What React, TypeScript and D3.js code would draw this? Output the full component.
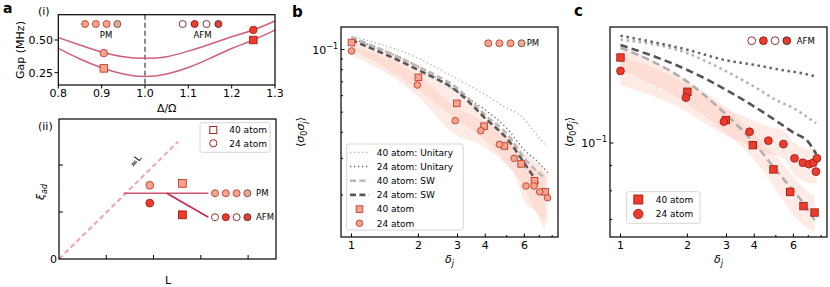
import React, { useEffect, useRef } from 'react';
import * as d3 from 'd3';

// ---------- panel a(i): gap vs detuning ----------
const detuning = [0.8, 0.85, 0.9, 0.95, 1.0, 1.05, 1.1, 1.15, 1.2, 1.25, 1.3];
const gap24 = [0.518, 0.462, 0.408, 0.372, 0.36, 0.372, 0.415, 0.468, 0.525, 0.577, 0.645];
const gap40 = [0.436, 0.355, 0.288, 0.24, 0.22, 0.24, 0.29, 0.36, 0.435, 0.5, 0.575];
const gapPtX = [0.905, 0.905, 1.25, 1.25];
const gapPtY = [0.4, 0.283, 0.577, 0.5];
const gapPtShape = ['circle', 'square', 'circle', 'square'];
const gapPtPhase = ['PM', 'PM', 'AFM', 'AFM'];
const gapTicksX = [0.8, 0.9, 1.0, 1.1, 1.2, 1.3];
const gapTicksY = [0.25, 0.5];

// ---------- panel a(ii): schematic ----------
const diagX = [0, 2.52];
const diagY = [0, 2.5];
const pmLineX = [1.37, 3.16];
const pmLineY = [1.4, 1.4];
const afmLineX = [2.28, 3.16];
const afmLineY = [1.4, 0.89];
const schemX = [1.92, 1.92, 2.61, 2.61];
const schemY = [1.57, 1.19, 1.61, 0.94];
const schemShape = ['circle', 'circle', 'square', 'square'];
const schemPhase = ['PM', 'AFM', 'PM', 'AFM'];
const schemTicksX = [1, 2, 3, 4];
const schemTicksY = [1, 2];

// ---------- panel b: PM correlations ----------
const bX40 = [1, 2, 2.98, 3.95, 4.88, 5.8, 6.66, 7.44];
const bY40 = [0.108, 0.0735, 0.0551, 0.0428, 0.0344, 0.0282, 0.0234, 0.0207];
const bLo40 = [0.101, 0.064, 0.046, 0.037, 0.029, 0.023, 0.017, 0.0135];
const bHi40 = [0.112, 0.082, 0.062, 0.048, 0.04, 0.033, 0.029, 0.027];
const bX24 = [1, 1.98, 2.93, 3.82, 4.63, 5.4, 6.1, 6.63, 7.03, 7.63];
const bY24 = [0.0984, 0.0675, 0.0455, 0.0407, 0.035, 0.03, 0.0221, 0.0221, 0.0207, 0.0194];
const bLo24 = [0.094, 0.06, 0.039, 0.035, 0.03, 0.025, 0.018, 0.017, 0.016, 0.0145];
const bHi24 = [0.104, 0.076, 0.053, 0.046, 0.04, 0.035, 0.027, 0.027, 0.026, 0.025];
const bUx40 = [1, 2, 3, 4, 4.88, 5.84, 6.66, 7.44];
const bUy40 = [0.116, 0.0907, 0.072, 0.0606, 0.0531, 0.0475, 0.0401, 0.0348];
const bUx24 = [1, 2, 3, 4, 5, 6, 7, 7.7];
const bUy24 = [0.113, 0.0827, 0.0627, 0.0512, 0.0418, 0.0329, 0.0284, 0.0254];
const bSx40 = [1, 2, 3, 4, 5.07, 6, 7.3];
const bSy40 = [0.1145, 0.0827, 0.065, 0.0484, 0.0388, 0.03, 0.0245];
const bSx24 = [1, 2, 3, 4, 5.07, 6, 7.05];
const bSy24 = [0.111, 0.0797, 0.0627, 0.0467, 0.0367, 0.0284, 0.022];
const bYMinor = [0.02, 0.03, 0.04, 0.05, 0.06, 0.07, 0.08, 0.09];

// ---------- panel c: AFM correlations ----------
const cX40 = [1, 2, 2.98, 3.94, 4.88, 5.8, 6.66, 7.47];
const cY40 = [0.149, 0.127, 0.1113, 0.099, 0.0884, 0.0796, 0.0745, 0.0723];
const cLo40 = [0.141, 0.12, 0.105, 0.093, 0.082, 0.073, 0.068, 0.066];
const cHi40 = [0.158, 0.134, 0.118, 0.105, 0.095, 0.087, 0.081, 0.078];
const cX24 = [1, 1.97, 2.92, 3.81, 4.63, 5.41, 6.07, 6.62, 7.06, 7.38, 7.58, 7.66];
const cY24 = [0.14, 0.1236, 0.1105, 0.1054, 0.1011, 0.0995, 0.0931, 0.0912, 0.0906, 0.0912, 0.0875, 0.0931];
const cLo24 = [0.131, 0.116, 0.104, 0.099, 0.095, 0.093, 0.086, 0.084, 0.083, 0.083, 0.083, 0.084];
const cHi24 = [0.15, 0.132, 0.118, 0.112, 0.108, 0.106, 0.1, 0.098, 0.097, 0.098, 0.097, 0.097];
const cUx40 = [1, 2, 3, 4, 5, 6, 7.6];
const cUy40 = [0.162, 0.152, 0.1396, 0.13, 0.1223, 0.1176, 0.1096];
const cUx24 = [1, 2, 3, 4, 5.3, 6.55, 7.6];
const cUy24 = [0.165, 0.1545, 0.147, 0.144, 0.1406, 0.1385, 0.1363];
const cSx40 = [1, 2, 3, 4, 4.88, 5.8, 6.66, 7.47];
const cSy40 = [0.156, 0.133, 0.114, 0.0999, 0.0895, 0.0815, 0.0755, 0.0698];
const cSx24 = [1, 2, 3, 4, 5, 6, 7, 7.6];
const cSy24 = [0.158, 0.1406, 0.128, 0.1185, 0.111, 0.105, 0.1005, 0.095];
const cYMinor = [0.07, 0.08, 0.09];

const corrTicksMajor = [1, 2, 3, 4, 6];
const corrTicksMinor = [5, 7, 8];

const FONT = 'DejaVu Sans, sans-serif';
const PM_FILL = '#f6a48b';
const PM_EDGE = '#c23b2e';
const AFM_FILL = '#ef3b2c';
const AFM_EDGE = '#a11d16';
const BAND = '#fbbcad';

function text(g: any, x: number, y: number, s: string, size: number, anchor = 'start') {
  return g.append('text').attr('x', x).attr('y', y).attr('font-size', size)
    .attr('font-family', FONT).attr('text-anchor', anchor).attr('fill', '#000').text(s);
}

function mark(g: any, shape: string, cx: number, cy: number, size: number, fill: string, stroke: string, sw = 0.9) {
  if (shape === 'circle') {
    g.append('circle').attr('cx', cx).attr('cy', cy).attr('r', size / 2)
      .attr('fill', fill).attr('stroke', stroke).attr('stroke-width', sw);
  } else {
    g.append('rect').attr('x', cx - size / 2).attr('y', cy - size / 2).attr('width', size).attr('height', size)
      .attr('fill', fill).attr('stroke', stroke).attr('stroke-width', sw);
  }
}

function frame(g: any, x0: number, y0: number, x1: number, y1: number) {
  g.append('rect').attr('x', x0).attr('y', y0).attr('width', x1 - x0).attr('height', y1 - y0)
    .attr('fill', 'none').attr('stroke', '#000').attr('stroke-width', 1.2);
}

function tick(g: any, x1: number, y1: number, x2: number, y2: number) {
  g.append('line').attr('x1', x1).attr('y1', y1).attr('x2', x2).attr('y2', y2)
    .attr('stroke', '#000').attr('stroke-width', 1);
}

// row of four phase glyphs (PM: all light; AFM: open / filled alternating)
function phaseRow(g: any, x: number, y: number, step: number, size: number, phase: string) {
  for (let i = 0; i < 4; i++) {
    if (phase === 'PM') {
      mark(g, 'circle', x + i * step, y, size, PM_FILL, i === 3 ? '#555' : PM_EDGE);
    } else {
      const filled = i % 2 === 1;
      mark(g, 'circle', x + i * step, y, size, filled ? AFM_FILL : '#fff', i === 3 ? '#333' : '#8b1a1a');
    }
  }
}

function drawGap(g: any) {
  const sx = d3.scaleLinear().domain([0.8, 1.3]).range([58.3, 275]);
  const sy = d3.scaleLinear().domain([0.25, 0.5]).range([72.7, 40]);
  const [y0, y1] = [14.7, 85];

  g.append('line').attr('x1', sx(1.0)).attr('x2', sx(1.0)).attr('y1', y0).attr('y2', y1)
    .attr('stroke', '#888').attr('stroke-width', 2).attr('stroke-dasharray', '5,3');

  const line = d3.line<number>().x((d, i) => sx(detuning[i])).y(d => sy(d)).curve(d3.curveNatural);
  [gap24, gap40].forEach(s => {
    g.append('path').attr('d', line(s)).attr('fill', 'none').attr('stroke', '#d0607a').attr('stroke-width', 1.5);
  });

  gapPtX.forEach((x, i) => {
    const pm = gapPtPhase[i] === 'PM';
    mark(g, gapPtShape[i], sx(x), sy(gapPtY[i]), 7.5, pm ? PM_FILL : AFM_FILL, pm ? PM_EDGE : AFM_EDGE);
  });

  phaseRow(g, 85, 24, 10.8, 7, 'PM');
  text(g, 106, 38, 'PM', 8.5, 'middle');
  phaseRow(g, 182.7, 24, 11.9, 7, 'AFM');
  text(g, 202.5, 38, 'AFM', 8.5, 'middle');

  frame(g, 58.3, y0, 275, y1);
  gapTicksX.forEach(v => {
    tick(g, sx(v), y1, sx(v), y1 + 3.5);
    text(g, sx(v), 96.7, v.toFixed(1), 11, 'middle');
  });
  gapTicksY.forEach(v => {
    tick(g, 58.3, sy(v), 54.5, sy(v));
    text(g, 53, sy(v) + 4, v.toFixed(2), 11, 'end');
  });
  text(g, 166.7, 112, 'Δ/Ω', 11, 'middle');
  text(g, 0, 0, 'Gap (MHz)', 11, 'middle').attr('transform', 'translate(24,50) rotate(-90)');
  text(g, 38, 15, '(i)', 11);
}

function drawSchematic(g: any) {
  const sx = d3.scaleLinear().domain([0, 4.59]).range([59, 276]);
  const sy = d3.scaleLinear().domain([0, 2.98]).range([259, 119]);
  const path = (xs: number[], ys: number[]) => d3.line<number>().x(d => sx(d)).y((d, i) => sy(ys[i]))(xs);

  g.append('path').attr('d', path(diagX, diagY)).attr('fill', 'none').attr('stroke', '#f0a0b2')
    .attr('stroke-width', 2).attr('stroke-dasharray', '5,3.2');
  g.append('path').attr('d', path(pmLineX, pmLineY)).attr('fill', 'none').attr('stroke', '#cf5472').attr('stroke-width', 1.6);
  g.append('path').attr('d', path(afmLineX, afmLineY)).attr('fill', 'none').attr('stroke', '#c42a55').attr('stroke-width', 1.6);

  schemX.forEach((x, i) => {
    const pm = schemPhase[i] === 'PM';
    mark(g, schemShape[i], sx(x), sy(schemY[i]), 7.8, pm ? PM_FILL : AFM_FILL, pm ? PM_EDGE : AFM_EDGE);
  });

  phaseRow(g, 215, sy(pmLineY[1]), 10.8, 7, 'PM');
  text(g, 256, sy(pmLineY[1]) + 3, 'PM', 8.5);
  phaseRow(g, 215, sy(afmLineY[1]), 10.8, 7, 'AFM');
  text(g, 256, sy(afmLineY[1]) + 3, 'AFM', 8.5);

  text(g, 0, 0, '≈L', 9.5, 'middle').attr('transform', 'translate(138,163) rotate(-52)');

  // legend
  g.append('rect').attr('x', 200).attr('y', 122.7).attr('width', 70).attr('height', 29.6).attr('rx', 2)
    .attr('fill', '#fff').attr('stroke', '#ccc').attr('stroke-width', 0.8);
  mark(g, 'square', 213.3, 130, 7, '#fff', '#b02020', 1);
  text(g, 229.3, 133.3, '40 atom', 9);
  mark(g, 'circle', 213.3, 143.3, 7.2, '#fff', '#b02020', 1);
  text(g, 229.3, 146.6, '24 atom', 9);

  frame(g, 59, 119, 276, 259);
  schemTicksX.forEach(v => tick(g, sx(v), 259, sx(v), 255));
  schemTicksY.forEach(v => tick(g, 59, sy(v), 63, sy(v)));
  text(g, 57, 263, '0', 11, 'end');
  text(g, 168, 284, 'L', 11, 'middle');
  const yl = g.append('text').attr('transform', 'translate(44,192) rotate(-90)').attr('text-anchor', 'middle')
    .attr('font-family', FONT).attr('font-size', 11);
  yl.append('tspan').attr('font-style', 'italic').text('ξ');
  yl.append('tspan').attr('font-style', 'italic').attr('font-size', 8).attr('dy', 2.5).text('ad');
  text(g, 38, 130, '(ii)', 11);
}

function corrPanel(g: any, cfg: any) {
  const sx = d3.scaleLog().domain([0.897, 8.5]).range([cfg.x0, cfg.x1]);
  const sy = d3.scaleLog().domain(cfg.yDom).range([cfg.y1, cfg.y0]);
  const id = 'clip' + cfg.name;
  g.append('clipPath').attr('id', id).append('rect').attr('x', cfg.x0).attr('y', cfg.y0)
    .attr('width', cfg.x1 - cfg.x0).attr('height', cfg.y1 - cfg.y0);
  const inner = g.append('g').attr('clip-path', `url(#${id})`);

  const area = (xs: number[], lo: number[], hi: number[]) => d3.area<number>()
    .x(d => sx(d)).y0((d, i) => sy(lo[i])).y1((d, i) => sy(hi[i])).curve(d3.curveMonotoneX)(xs);
  cfg.bands.forEach((b: any) => {
    inner.append('path').attr('d', area(b.x, b.lo, b.hi)).attr('fill', BAND).attr('opacity', 0.3);
  });

  const path = (xs: number[], ys: number[]) => d3.line<number>().x(d => sx(d)).y((d, i) => sy(ys[i]))
    .curve(d3.curveMonotoneX)(xs);
  cfg.lines.forEach((l: any) => {
    inner.append('path').attr('d', path(l.x, l.y)).attr('fill', 'none').attr('stroke', l.color)
      .attr('stroke-width', l.w).attr('stroke-dasharray', l.dash);
  });

  cfg.points.forEach((p: any) => {
    p.x.forEach((x: number, i: number) => mark(inner, p.shape, sx(x), sy(p.y[i]), p.size, cfg.fill, cfg.edge));
  });

  frame(g, cfg.x0, cfg.y0, cfg.x1, cfg.y1);
  corrTicksMajor.forEach(v => {
    tick(g, sx(v), cfg.y1, sx(v), cfg.y1 - 3.5);
    text(g, sx(v), 249, String(v), 11, 'middle');
  });
  corrTicksMinor.forEach(v => tick(g, sx(v), cfg.y1, sx(v), cfg.y1 - 2));
  cfg.yMinor.forEach((v: number) => tick(g, cfg.x0, sy(v), cfg.x0 + 2, sy(v)));
  tick(g, cfg.x0, sy(0.1), cfg.x0 + 3.5, sy(0.1));
  const lab = g.append('text').attr('x', cfg.x0 - 3).attr('y', sy(0.1) + 4).attr('text-anchor', 'end')
    .attr('font-family', FONT).attr('font-size', 11);
  lab.append('tspan').text('10');
  lab.append('tspan').attr('font-size', 8).attr('dy', -5).text('−1');

  const cx = (cfg.x0 + cfg.x1) / 2;
  const xl = g.append('text').attr('x', cx).attr('y', 263).attr('text-anchor', 'middle')
    .attr('font-family', FONT).attr('font-size', 11);
  xl.append('tspan').attr('font-style', 'italic').text('δ');
  xl.append('tspan').attr('font-style', 'italic').attr('font-size', 8).attr('dy', 2.5).text('j');

  const yl = g.append('text').attr('transform', `translate(${cfg.ylx},${(cfg.y0 + cfg.y1) / 2}) rotate(-90)`)
    .attr('text-anchor', 'middle').attr('font-family', FONT).attr('font-size', 11);
  yl.append('tspan').text('⟨');
  yl.append('tspan').attr('font-style', 'italic').text('σ');
  yl.append('tspan').attr('font-size', 8).attr('dy', 2.5).text('0');
  yl.append('tspan').attr('font-style', 'italic').attr('dy', -2.5).text('σ');
  yl.append('tspan').attr('font-style', 'italic').attr('font-size', 8).attr('dy', 2.5).text('j');
  yl.append('tspan').attr('dy', -2.5).text('⟩');

  text(g, cfg.lx, cfg.ly, cfg.name, 15, 'start').attr('font-weight', 'bold');
}

export default function App() {
  const ref = useRef<SVGSVGElement>(null);
  useEffect(() => {
    const svg = d3.select(ref.current);
    svg.selectAll('*').remove();
    text(svg, 3, 13, 'a', 14).attr('font-weight', 'bold');
    drawGap(svg.append('g'));
    drawSchematic(svg.append('g'));

    const dot = { w: 1.3, dash: '1.3,2.7' };
    const dash = { w: 2.6, dash: '6,3.4' };
    const gb = svg.append('g');
    corrPanel(gb, {
      name: 'b', x0: 341, x1: 558, y0: 27, y1: 237, yDom: [0.01256, 0.1283], yMinor: bYMinor,
      ylx: 304, lx: 292, ly: 16.5, fill: PM_FILL, edge: PM_EDGE,
      bands: [{ x: bX40, lo: bLo40, hi: bHi40 }, { x: bX24, lo: bLo24, hi: bHi24 }],
      lines: [
        { x: bUx40, y: bUy40, color: '#b0b0b0', ...dot },
        { x: bUx24, y: bUy24, color: '#666', ...dot },
        { x: bSx40, y: bSy40, color: '#b8b8b8', ...dash },
        { x: bSx24, y: bSy24, color: '#585858', ...dash },
      ],
      points: [{ x: bX40, y: bY40, shape: 'square', size: 6.6 }, { x: bX24, y: bY24, shape: 'circle', size: 6.6 }],
    });
    phaseRow(gb, 488.3, 43.3, 11.1, 7, 'PM');
    text(gb, 526.7, 46.3, 'PM', 8.5);
    // legend b
    gb.append('rect').attr('x', 346.7).attr('y', 144).attr('width', 116.6).attr('height', 86).attr('rx', 2)
      .attr('fill', '#fff').attr('stroke', '#ccc').attr('stroke-width', 0.8);
    const bLeg = [
      { label: '40 atom: Unitary', color: '#b0b0b0', ...dot },
      { label: '24 atom: Unitary', color: '#666', ...dot },
      { label: '40 atom: SW', color: '#b8b8b8', ...dash },
      { label: '24 atom: SW', color: '#585858', ...dash },
    ];
    bLeg.forEach((l, i) => {
      const y = 152.3 + i * 14.2;
      gb.append('line').attr('x1', 350).attr('x2', 369).attr('y1', y).attr('y2', y).attr('stroke', l.color)
        .attr('stroke-width', l.w).attr('stroke-dasharray', l.dash);
      text(gb, 376.7, y + 3.3, l.label, 9);
    });
    mark(gb, 'square', 359.5, 152.3 + 4 * 14.2, 6.6, PM_FILL, PM_EDGE);
    text(gb, 376.7, 152.3 + 4 * 14.2 + 3.3, '40 atom', 9);
    mark(gb, 'circle', 359.5, 152.3 + 5 * 14.2, 6.6, PM_FILL, PM_EDGE);
    text(gb, 376.7, 152.3 + 5 * 14.2 + 3.3, '24 atom', 9);

    const dotC = { w: 2.5, dash: '2.5,3.6' };
    const dashC = { w: 2.6, dash: '7.5,4.2' };
    const gc = svg.append('g');
    corrPanel(gc, {
      name: 'c', x0: 610, x1: 827, y0: 27, y1: 237, yDom: [0.0645, 0.1718], yMinor: cYMinor,
      ylx: 573, lx: 574, ly: 15.5, fill: AFM_FILL, edge: AFM_EDGE,
      bands: [{ x: cX40, lo: cLo40, hi: cHi40 }, { x: cX24, lo: cLo24, hi: cHi24 }],
      lines: [
        { x: cUx40, y: cUy40, color: '#b0b0b0', ...dotC },
        { x: cUx24, y: cUy24, color: '#666', ...dotC },
        { x: cSx40, y: cSy40, color: '#b0b0b0', ...dashC },
        { x: cSx24, y: cSy24, color: '#555', ...dashC },
      ],
      points: [{ x: cX40, y: cY40, shape: 'square', size: 7.4 }, { x: cX24, y: cY24, shape: 'circle', size: 7.8 }],
    });
    phaseRow(gc, 751.7, 40.7, 11.7, 7.8, 'AFM');
    text(gc, 796.7, 44, 'AFM', 8.5);
    gc.append('rect').attr('x', 626.7).attr('y', 191.7).attr('width', 73.3).attr('height', 31.6).attr('rx', 2)
      .attr('fill', '#fff').attr('stroke', '#ccc').attr('stroke-width', 0.8);
    mark(gc, 'square', 638.3, 199.5, 9, AFM_FILL, AFM_EDGE);
    text(gc, 655.7, 202.8, '40 atom', 9);
    mark(gc, 'circle', 638.3, 214, 9.4, AFM_FILL, AFM_EDGE);
    text(gc, 655.7, 217.3, '24 atom', 9);
  }, []);

  return (
    <svg ref={ref} width={830} height={287}
      style={{ position: 'absolute', left: 0, top: 0, background: '#fff' }} />
  );
}
